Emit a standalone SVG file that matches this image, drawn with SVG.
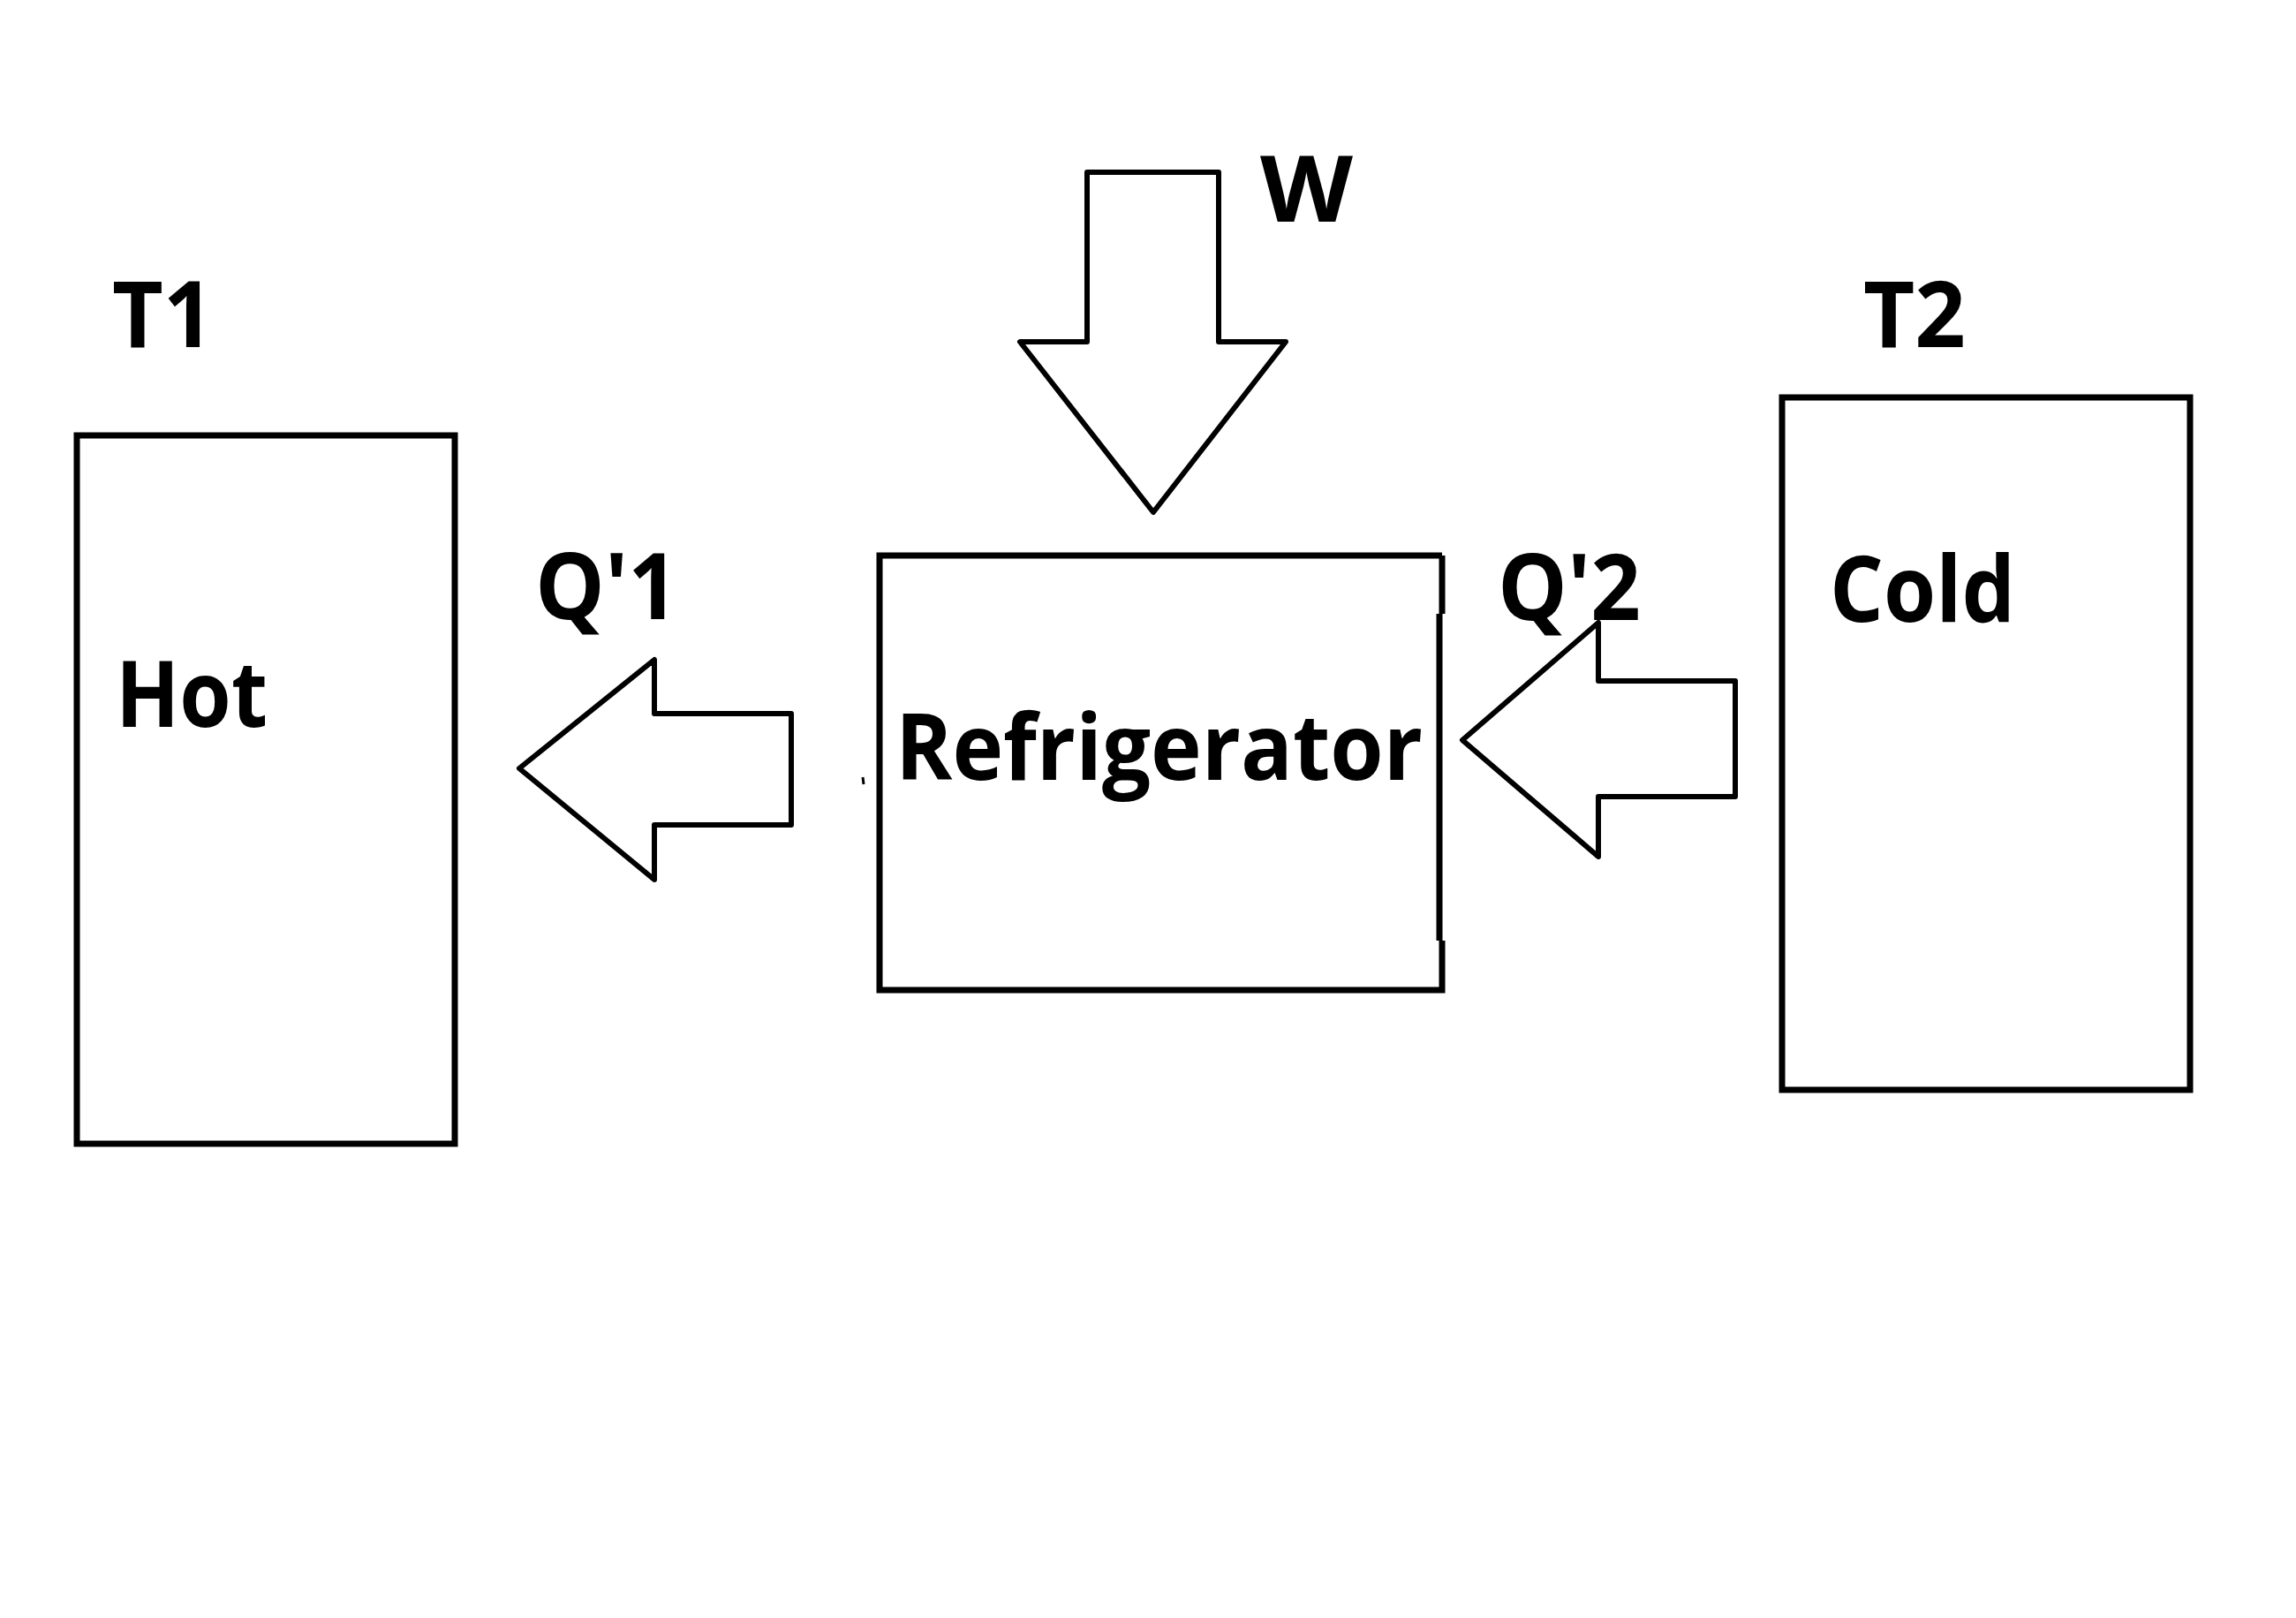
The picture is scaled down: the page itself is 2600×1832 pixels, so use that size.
<svg xmlns="http://www.w3.org/2000/svg" width="2600" height="1832" viewBox="0 0 2600 1832">
<style>
.box{fill:none;stroke:#000;stroke-width:7;stroke-linejoin:miter}
.arrow{fill:none;stroke:#000;stroke-width:6;stroke-linejoin:round;stroke-linecap:round}
.lbl{font-family:"Open Sans","Liberation Sans",sans-serif;font-weight:700;font-size:104px;fill:#000}
</style>
<rect width="2600" height="1832" fill="#fff"/>
<g id="hot">
<rect class="box" x="87" y="493" width="428" height="802"/>
<text class="lbl" x="131" y="823" textLength="172" lengthAdjust="spacingAndGlyphs">Hot</text>
<text class="lbl" x="127" y="393" textLength="115" lengthAdjust="spacingAndGlyphs">T1</text>
</g>
<g id="refrigerator">
<path class="box" d="M1633,629 H996 V1121 H1633 V1065 M1630,1065 V695 M1633,695 V629"/>
<text class="lbl" x="1014" y="883" textLength="597" lengthAdjust="spacingAndGlyphs">Refrigerator</text>
<path d="M977,880 L978,888" stroke="#000" stroke-width="3" fill="none"/>
</g>
<g id="cold">
<rect class="box" x="2018" y="450" width="462" height="784"/>
<text class="lbl" x="2072" y="704" textLength="210" lengthAdjust="spacingAndGlyphs">Cold</text>
<text class="lbl" x="2110" y="393" textLength="116" lengthAdjust="spacingAndGlyphs">T2</text>
</g>
<g id="connectors">
<g id="arrow-w">
<path class="arrow" d="M1231,195 H1380 V387 H1456 L1306,580 L1155,387 H1231 Z"/>
<text class="lbl" x="1427" y="251" textLength="105" lengthAdjust="spacingAndGlyphs">W</text>
</g>
<g id="arrow-q1">
<path class="arrow" d="M896,808 V934 H741 V996 L588,870 L741,747 V808 Z"/>
<text class="lbl" x="606" y="701" textLength="162" lengthAdjust="spacingAndGlyphs">Q'1</text>
</g>
<g id="arrow-q2">
<path class="arrow" d="M1965,771 V902 H1810 V970 L1656,838 L1810,705 V771 Z"/>
<text class="lbl" x="1696" y="702" textLength="162" lengthAdjust="spacingAndGlyphs">Q'2</text>
</g>
</g>
</svg>
